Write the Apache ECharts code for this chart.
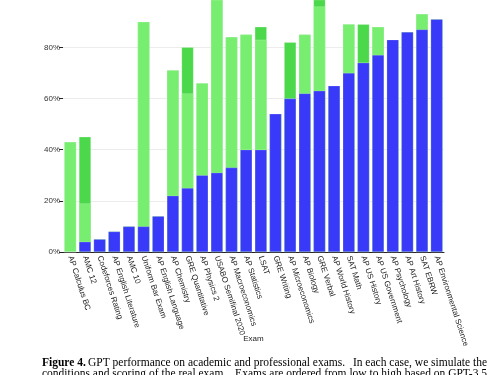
<!DOCTYPE html>
<html>
<head>
<meta charset="utf-8">
<script src="https://cdn.jsdelivr.net/npm/echarts@6/dist/echarts.min.js"></script>
<style>
  html, body { margin: 0; padding: 0; background: #fff; }
  #main { width: 500px; height: 375px; }
</style>
</head>
<body>
<div id="main"></div>
<script>
var exams = ['AP Calculus BC', 'AMC 12', 'Codeforces Rating', 'AP English Literature', 'AMC 10',
  'Uniform Bar Exam', 'AP English Language', 'AP Chemistry', 'GRE Quantitative', 'AP Physics 2',
  'USABO Semifinal 2020', 'AP Macroeconomics', 'AP Statistics', 'LSAT', 'GRE Writing',
  'AP Microeconomics', 'AP Biology', 'GRE Verbal', 'AP World History', 'SAT Math',
  'AP US History', 'AP US Government', 'AP Psychology', 'AP Art History', 'SAT EBRW',
  'AP Environmental Science'];

// percentile tops
var gpt35 = [0, 4, 5, 8, 10, 10, 14, 22, 25, 30, 31, 33, 40, 40, 54, 60, 62, 63, 65, 70, 74, 77, 83, 86, 87, 91];
var gpt4NoVision = [43, 19, 5, 8, 10, 90, 14, 71, 62, 66, 99, 84, 85, 83, 54, 60, 85, 96, 65, 89, 74, 88, 83, 86, 93, 91];
var gpt4 = [43, 45, 5, 8, 10, 90, 14, 71, 80, 66, 99, 84, 85, 88, 54, 82, 85, 99, 65, 89, 89, 88, 83, 86, 93, 91];

// the figure is cropped just below 100%
var yTicks = [0, 20, 40, 60, 80];
var yTop = 98.5;

// caption, split at the sentence break so each line spans the full width
var captionBold = 'Figure 4.';
var caption1 = ['GPT performance on academic and professional exams.', 'In each case, we simulate the'];
var caption2 = ['conditions and scoring of the real exam.', 'Exams are ordered from low to high based on GPT-3.5'];

var chart = echarts.init(document.getElementById('main'));

var font = '"Liberation Sans", Arial, sans-serif';
var serif = '"Liberation Serif", "Times New Roman", serif';

function capText(pos, top, text, bold) {
  var el = { type: 'text', top: top, style: { text: text, font: (bold ? 'bold ' : '') + '11.5px ' + serif, fill: '#000' } };
  if (pos < 0) el.right = -pos; else el.left = pos;
  return el;
}

var option = {
  animation: false,
  textStyle: { fontFamily: font },
  grid: { left: 63, right: 56, top: 0, bottom: 123 },
  xAxis: {
    type: 'category',
    data: exams,
    name: 'Exam',
    nameLocation: 'middle',
    nameGap: 83,
    nameMoveOverlap: false,
    nameTextStyle: { fontSize: 8, color: '#222' },
    axisLine: { lineStyle: { color: '#222', width: 1 } },
    axisTick: { alignWithLabel: true, length: 3, lineStyle: { color: '#222' } },
    axisLabel: { interval: 0, rotate: -72, fontSize: 8, color: '#222', margin: 4 }
  },
  yAxis: {
    type: 'value',
    min: 0,
    max: yTop,
    interval: 20,
    axisLine: { show: false },
    axisTick: { show: true, length: 4, customValues: yTicks, lineStyle: { color: '#222' } },
    axisLabel: {
      fontSize: 8, color: '#333', margin: 3, customValues: yTicks,
      formatter: function (v) { return v + '%'; }
    },
    splitLine: { lineStyle: { color: '#ececec', width: 1 } }
  },
  series: [
    {
      name: 'GPT-4', type: 'bar', data: gpt4, barWidth: 12, barGap: '-100%',
      itemStyle: { color: '#4bd84a', borderColor: 'rgba(255,255,255,0.4)', borderWidth: 0.5 }
    },
    {
      name: 'GPT-4 (no vision)', type: 'bar', data: gpt4NoVision, barWidth: 12, barGap: '-100%',
      itemStyle: { color: '#77ee6f', borderColor: 'rgba(255,255,255,0.4)', borderWidth: 0.5 }
    },
    {
      name: 'GPT-3.5', type: 'bar', data: gpt35, barWidth: 12, barGap: '-100%',
      itemStyle: { color: '#3939f9', borderColor: 'rgba(255,255,255,0.4)', borderWidth: 0.5 }
    }
  ],
  graphic: [
    capText(42, 357, captionBold, true),
    capText(88, 357, caption1[0]),
    capText(-13, 357, caption1[1]),
    capText(42, 368, caption2[0]),
    capText(-13, 368, caption2[1])
  ]
};

chart.setOption(option);
</script>
</body>
</html>
